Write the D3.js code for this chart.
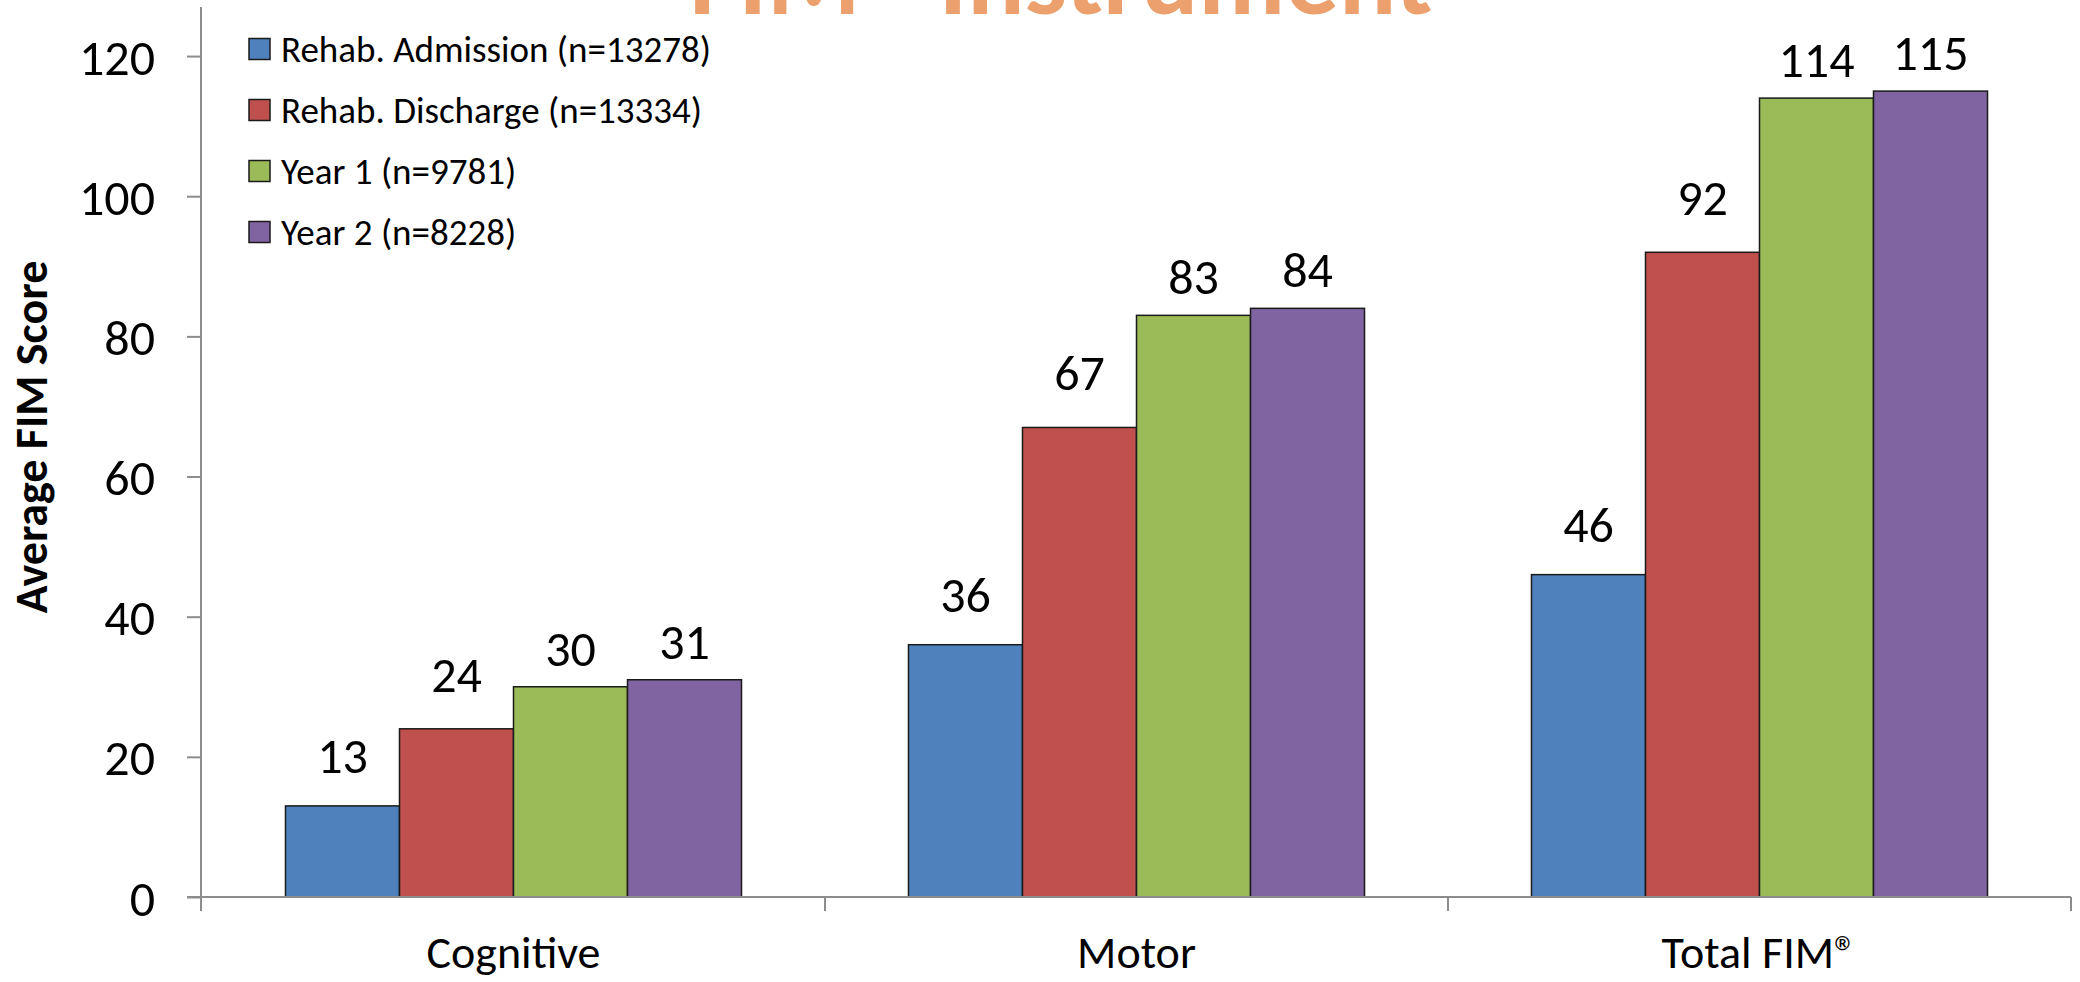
<!DOCTYPE html>
<html>
<head>
<meta charset="utf-8">
<title>FIM Instrument</title>
<script src="https://d3js.org/d3.v7.min.js"></script>
<style>
  html, body { margin: 0; padding: 0; background: #fff; }
  svg text { font-family: Carlito, Calibri, Lato, "Open Sans", sans-serif; }
</style>
</head>
<body>
<div id="chart"></div>
<script>
// data
const categories = ["Cognitive", "Motor", "Total FIM®"];
const series = ["Rehab. Admission (n=13278)", "Rehab. Discharge (n=13334)", "Year 1 (n=9781)", "Year 2 (n=8228)"];
const admission = [13, 36, 46];
const discharge = [24, 67, 92];
const year1 = [30, 83, 114];
const year2 = [31, 84, 115];
const yTicks = [0, 20, 40, 60, 80, 100, 120];

const values = [admission, discharge, year1, year2];
const colors = ["#4F81BD", "#C0504D", "#9BBB59", "#8064A2"];
const labelGap = [33, 37, 21, 21];

const width = 2080, height = 982;
const svg = d3.select("#chart").append("svg")
    .attr("width", width)
    .attr("height", height);

// scales
const x0 = d3.scaleBand()
    .domain(categories)
    .range([202, 2071])
    .paddingInner(0.268)
    .paddingOuter(0.134);

const x1 = d3.scaleBand()
    .domain(d3.range(series.length))
    .range([0, x0.bandwidth()]);

const y = d3.scaleLinear()
    .domain([0, 127])
    .range([897, 7]);

// title (cut off at the top of the slide, as in the source)
const title = svg.append("text")
    .attr("x", 1061)
    .attr("y", 14)
    .attr("text-anchor", "middle")
    .attr("fill", "#EBA06E")
    .style("font-weight", "bold")
    .style("font-size", "96px")
    .text("FIM® Instrument");
const tl = title.node().getComputedTextLength();
title.style("font-size", (96 * 743 / tl) + "px");

// bars
const groups = svg.append("g")
    .selectAll("g")
    .data(categories)
    .join("g")
    .attr("transform", d => `translate(${x0(d)},0)`);

groups.selectAll("rect")
    .data((d, ci) => values.map((s, si) => ({si: si, v: s[ci]})))
    .join("rect")
    .attr("x", d => x1(d.si))
    .attr("y", d => y(d.v))
    .attr("width", x1.bandwidth())
    .attr("height", d => y(0) - y(d.v))
    .attr("fill", d => colors[d.si])
    .attr("stroke", "#1a1a1a")
    .attr("stroke-width", 1.5);

groups.selectAll("text")
    .data((d, ci) => values.map((s, si) => ({si: si, v: s[ci]})))
    .join("text")
    .attr("x", d => x1(d.si) + x1.bandwidth() / 2)
    .attr("y", d => y(d.v) - labelGap[d.si])
    .attr("text-anchor", "middle")
    .style("font-size", "50px")
    .attr("fill", "#000")
    .text(d => d.v);

// y axis
const yAxis = svg.append("g")
    .attr("transform", "translate(201,0)")
    .call(d3.axisLeft(y).tickValues(yTicks).tickSize(14).tickPadding(32).tickSizeOuter(0));
yAxis.selectAll("text").style("font-size", "50px").attr("fill", "#000").attr("dy", "0.36em");
yAxis.selectAll("line").attr("stroke", "#8c8c8c").attr("stroke-width", 2);
yAxis.select(".domain").attr("stroke", "#8c8c8c").attr("stroke-width", 2)
    .attr("d", `M0,${y.range()[1]}V911`);

// x axis
const xAxis = svg.append("g")
    .attr("transform", `translate(0,${y(0)})`);
xAxis.append("line")
    .attr("x1", 187).attr("x2", x0.range()[1])
    .attr("stroke", "#8c8c8c").attr("stroke-width", 2);
xAxis.selectAll(".tick")
    .data(categories.map(c => x0(c) - x0.step() * x0.paddingInner() / 2).slice(1).concat([x0.range()[1]]))
    .join("line")
    .attr("x1", d => d).attr("x2", d => d)
    .attr("y1", 0).attr("y2", 14)
    .attr("stroke", "#8c8c8c").attr("stroke-width", 2);
xAxis.selectAll("text")
    .data(categories)
    .join("text")
    .attr("x", d => x0(d) + x0.bandwidth() / 2)
    .attr("y", 71)
    .attr("text-anchor", "middle")
    .style("font-size", "46px")
    .attr("fill", "#000")
    .text(d => d);

// y axis title
svg.append("text")
    .attr("transform", "translate(47,437) rotate(-90)")
    .attr("text-anchor", "middle")
    .style("font-size", "46px")
    .style("font-weight", "bold")
    .attr("fill", "#000")
    .text("Average FIM Score");

// legend
const legend = svg.append("g")
    .selectAll("g")
    .data(series)
    .join("g")
    .attr("transform", (d, i) => `translate(249,${49 + i * 61})`);
legend.append("rect")
    .attr("x", 0).attr("y", -10.5)
    .attr("width", 21).attr("height", 21)
    .attr("fill", (d, i) => colors[i])
    .attr("stroke", "#1a1a1a").attr("stroke-width", 1.5);
legend.append("text")
    .attr("x", 32)
    .attr("dy", "0.35em")
    .style("font-size", "37px")
    .attr("fill", "#000")
    .text(d => d);
</script>
</body>
</html>
